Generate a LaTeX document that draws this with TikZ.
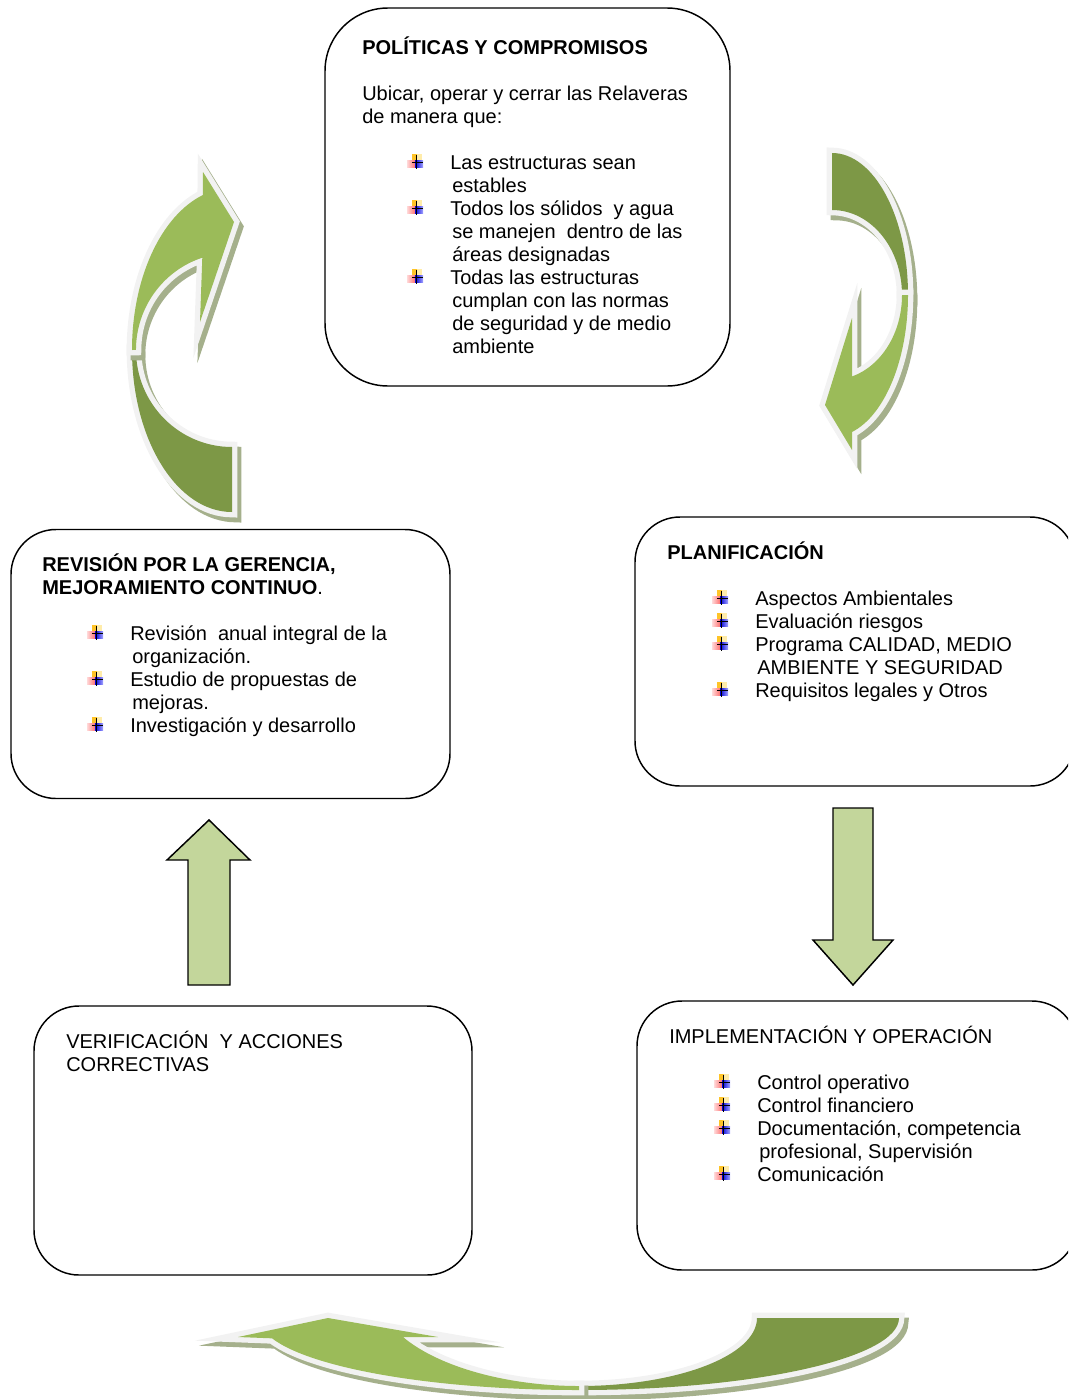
\documentclass[tikz,border=0pt]{standalone}
\usepackage{fontspec}
\setmainfont{Liberation Sans}
\usetikzlibrary{positioning}
\definecolor{verdeClaro}{RGB}{155,187,89}
\definecolor{verdeOscuro}{RGB}{125,152,70}
\definecolor{verdeFlecha}{RGB}{195,214,155}
\definecolor{bordeGris}{RGB}{242,242,242}
\definecolor{sombraVerde}{RGB}{165,176,140}
\definecolor{amarilloV}{RGB}{255,196,40}
\definecolor{amarilloC}{RGB}{255,236,170}

\newcommand{\sangria}{\hspace*{66pt}}
\newcommand{\sangriab}{\hspace*{67.5pt}}

\begin{document}
\begin{tikzpicture}[
    x=0.75pt, y=-0.75pt,
    panel/.style={
        draw,
        rectangle,
        line width=1.1pt,
        rounded corners=33.75pt,
        minimum width=330pt,
        minimum height=201.75pt,
        inner sep=0pt,
        outer sep=0pt
    },
    txt/.style={
        anchor=north west,
        inner sep=0pt,
        font=\fontsize{15}{17.25}\selectfont
    },
    blockarrow/.style={draw, line width=1.1pt, fill=verdeFlecha, line join=miter},
    curvepart/.style={
        line join=miter,
        preaction={fill=sombraVerde, draw=sombraVerde, line width=8pt, line join=miter, miter limit=13,
            transform canvas={shift={(4,5)}}},
        preaction={draw=bordeGris, line width=8pt, line join=miter, miter limit=13}
    },
    bulleticon/.pic={
        \fill[amarilloV] (5,0) rectangle (10,7);
        \fill[amarilloC] (10,0) rectangle (15,7);
        \shade[left color=red!15, right color=red!55] (0,6) rectangle (8,13);
        \shade[left color=blue!85!black, right color=blue!35] (8,6) rectangle (16,13);
        \draw[line width=0.8pt] (9.5,1) -- (9.5,15) (5,8.5) -- (16,8.5);
    }
]
\useasboundingbox (0,0) rectangle (1068,1399);
\clip (0,0) rectangle (1068,1399);

% === Flecha curva: revisión -> políticas ===
\fill[curvepart, verdeOscuro] (232,512) arc[start angle=90, end angle=180, x radius=100, y radius=162]
    -- (136,350) arc[start angle=180, end angle=90, x radius=96, y radius=97] -- cycle;
\fill[curvepart, verdeClaro] (132,350) arc[start angle=180, end angle=253, x radius=100, y radius=162]
    -- (203,172) -- (234,222) -- (200,322) -- (202.3,257.7)
    arc[start angle=252, end angle=180, x radius=96, y radius=97] -- cycle;

% === Flecha curva: políticas -> planificación ===
\fill[curvepart, verdeOscuro] (832,153) arc[start angle=-90, end angle=0, x radius=76, y radius=142]
    -- (902,295) arc[start angle=0, end angle=-90, x radius=70, y radius=85] -- cycle;
\fill[curvepart, verdeClaro] (908,295) arc[start angle=0, end angle=74.7, x radius=76, y radius=142]
    -- (852,450) -- (825,405) -- (852,318) -- (852,376.5)
    arc[start angle=73.4, end angle=0, x radius=70, y radius=85] -- cycle;

% === Flecha curva inferior ===
\fill[curvepart, verdeOscuro] (579,1390) arc[start angle=90, end angle=0, x radius=320, y radius=72]
    -- (757,1318) arc[start angle=0, end angle=90, x radius=178, y radius=68] -- cycle;
\fill[curvepart, verdeClaro] (579,1390) arc[start angle=90, end angle=163.6, x radius=320, y radius=72]
    -- (238,1337) -- (328,1318) -- (438,1337) -- (403,1337)
    .. controls (440,1368) and (510,1386) .. (579,1386) -- cycle;

% === Flechas rectas ===
\draw[blockarrow] (188,985) -- (188,860) -- (167,860) -- (209,820) -- (250,860) -- (230,860) -- (230,985) -- cycle;
\draw[blockarrow] (833,808) -- (873,808) -- (873,940) -- (893,940) -- (853,985) -- (813,940) -- (833,940) -- cycle;

% === Cajas ===
\node[panel, minimum width=303.75pt, minimum height=283.5pt, rounded corners=47.25pt] (pol) at (527.5,197) {};
\node[panel, minimum width=329.25pt] (revis) at (230.5,664) {};
\node[panel] (plan) at (855,651.5) {};
\node[panel, minimum width=328.5pt] (verif) at (253,1140.5) {};
\node[panel] (impl) at (857,1135.5) {};

% === Textos ===
\node[txt] (poltxt) at (362,36.9) {\begin{tabular}{@{}l@{}}
\textbf{POLÍTICAS Y COMPROMISOS}\\
\\
Ubicar, operar y cerrar las Relaveras\\
de manera que:\\
\\
\sangria Las estructuras sean\\
\sangriab estables\\
\sangria Todos los sólidos\ \ y agua\\
\sangriab se manejen\ \ dentro de las\\
\sangriab áreas designadas\\
\sangria Todas las estructuras\\
\sangriab cumplan con las normas\\
\sangriab de seguridad y de medio\\
\sangriab ambiente
\end{tabular}};

\node[txt] (revistxt) at (42,553.9) {\begin{tabular}{@{}l@{}}
\textbf{REVISIÓN POR LA GERENCIA,}\\
\textbf{MEJORAMIENTO CONTINUO}.\\
\\
\sangria Revisión\ \ anual integral de la\\
\sangriab organización.\\
\sangria Estudio de propuestas de\\
\sangriab mejoras.\\
\sangria Investigación y desarrollo
\end{tabular}};

\node[txt] (plantxt) at (667,541.9) {\begin{tabular}{@{}l@{}}
\textbf{PLANIFICACIÓN}\\
\\
\sangria Aspectos Ambientales\\
\sangria Evaluación riesgos\\
\sangria Programa CALIDAD, MEDIO\\
\sangriab AMBIENTE Y SEGURIDAD\\
\sangria Requisitos legales y Otros
\end{tabular}};

\node[txt] (veriftxt) at (66,1030.9) {\begin{tabular}{@{}l@{}}
VERIFICACIÓN\ \ Y ACCIONES\\
CORRECTIVAS
\end{tabular}};

\node[txt] (impltxt) at (669,1025.9) {\begin{tabular}{@{}l@{}}
IMPLEMENTACIÓN Y OPERACIÓN\\
\\
\sangria Control operativo\\
\sangria Control financiero\\
\sangria Documentación, competencia\\
\sangriab profesional, Supervisión\\
\sangria Comunicación
\end{tabular}};

% === Viñetas ===
\foreach \y in {154,200,269} \pic at (407,\y) {bulleticon};
\foreach \y in {625,671,717} \pic at (87,\y) {bulleticon};
\foreach \y in {590,613,636,682} \pic at (712,\y) {bulleticon};
\foreach \y in {1074,1097,1120,1166} \pic at (714,\y) {bulleticon};

\end{tikzpicture}
\end{document}
